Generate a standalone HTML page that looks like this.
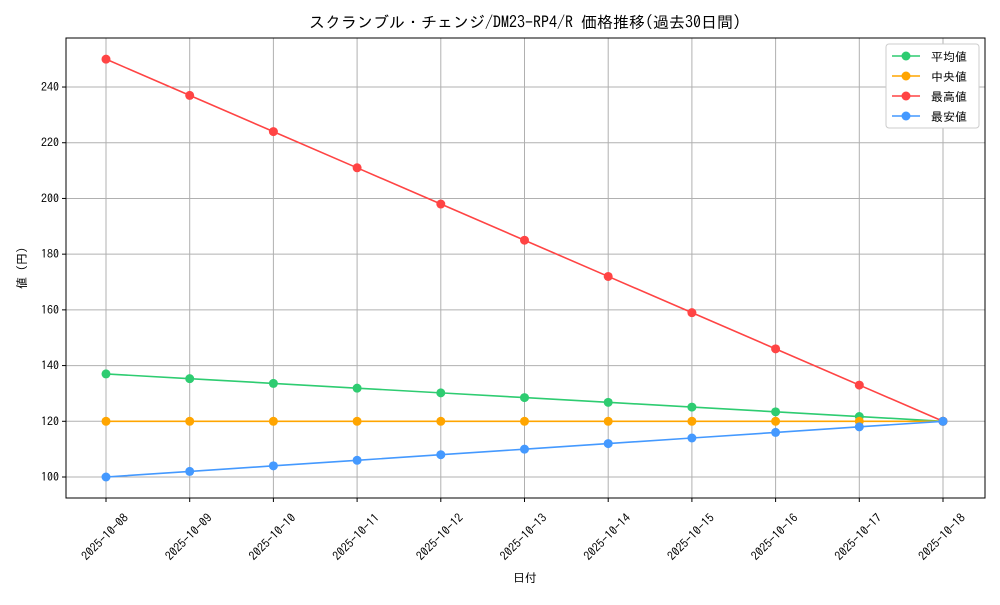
<!DOCTYPE html>
<html><head><meta charset="utf-8"><style>
body{margin:0;background:#fff;}
svg text{font-family:"IPAGothic","Noto Sans CJK JP",sans-serif;fill:#000;}
</style></head><body>
<svg id="chart" width="1000" height="600" xmlns="http://www.w3.org/2000/svg"></svg>
<script>
const dates=["2025-10-08","2025-10-09","2025-10-10","2025-10-11","2025-10-12","2025-10-13","2025-10-14","2025-10-15","2025-10-16","2025-10-17","2025-10-18"];
const avgValues=[137,135.3,133.6,131.9,130.2,128.5,126.8,125.1,123.4,121.7,120];
const medianValues=[120,120,120,120,120,120,120,120,120,120,120];
const maxValues=[250,237,224,211,198,185,172,159,146,133,120];
const minValues=[100,102,104,106,108,110,112,114,116,118,120];
const yTicks=[100,120,140,160,180,200,220,240];
const seriesNames=["平均値","中央値","最高値","最安値"];

const svg=document.getElementById('chart');
const NS="http://www.w3.org/2000/svg";
const L=66,R=985,T=38,B=498,yMin=92.46,yMax=257.6;
const xs=i=>106+i*(943-106)/(dates.length-1);
const ys=v=>B-(v-yMin)/(yMax-yMin)*(B-T);
function mk(tag,attrs,parent){const e=document.createElementNS(NS,tag);for(const k in attrs)e.setAttribute(k,attrs[k]);(parent||svg).appendChild(e);return e;}

const t=mk('text',{x:525,y:28,'text-anchor':'middle','font-size':16});
t.textContent="スクランブル・チェンジ/DM23-RP4/R 価格推移(過去30日間)";



const grid=mk('g',{});


dates.forEach((d,i)=>{
  mk('line',{x1:xs(i),x2:xs(i),y1:T,y2:B,stroke:'#b0b0b0','stroke-width':1},grid);
  mk('line',{x1:xs(i),x2:xs(i),y1:B,y2:B+4,stroke:'#000'});
  const lb=mk('text',{'font-size':12,'text-anchor':'middle','dominant-baseline':'central',transform:`translate(${xs(i)-1},${537}) rotate(-45)`});
  lb.textContent=d;
  
  
});
yTicks.forEach(v=>{
  mk('line',{x1:L,x2:R,y1:ys(v),y2:ys(v),stroke:'#b0b0b0','stroke-width':1},grid);
  mk('line',{x1:L-4,x2:L,y1:ys(v),y2:ys(v),stroke:'#000'});
  const lb=mk('text',{x:L-7,y:ys(v)+4,'font-size':12,'text-anchor':'end'});
  lb.textContent=v;
  
  
});
const frame=mk('rect',{x:L,y:T,width:R-L,height:B-T,fill:'none',stroke:'#000','stroke-width':1});



const xt=mk('text',{x:525,y:582,'font-size':12,'text-anchor':'middle'});xt.textContent="日付";


const yt=mk('text',{'font-size':12,'text-anchor':'middle',transform:`translate(26,268) rotate(-90)`});yt.textContent="値 (円)";



const series=[[avgValues,'#2ecc71'],[medianValues,'#ffa500'],[maxValues,'#ff4444'],[minValues,'#4499ff']];
const sNames=['average-series','median-series','max-series','min-series'];
series.forEach(([vals,c],k)=>{
  const g=mk('g',{});
  
  
  mk('polyline',{points:vals.map((v,i)=>xs(i)+','+ys(v)).join(' '),fill:'none',stroke:c,'stroke-width':1.6},g);
  vals.forEach((v,i)=>{
    const p=mk('circle',{cx:xs(i),cy:ys(v),r:4.5,fill:c},g);
    
    
  });
});

const lg=mk('g',{});


mk('rect',{x:886,y:44,width:93,height:84,rx:3,fill:'#fff',stroke:'#ccc'},lg);
seriesNames.forEach((n,k)=>{
  const y=56+k*20,c=series[k][1];
  const e=mk('g',{},lg);
  
  
  mk('line',{x1:892,x2:920,y1:y,y2:y,stroke:c,'stroke-width':1.6},e);
  mk('circle',{cx:906,cy:y,r:4.5,fill:c},e);
  const tx=mk('text',{x:931,y:y+5,'font-size':12},e);tx.textContent=n;
});
</script>
</body></html>
